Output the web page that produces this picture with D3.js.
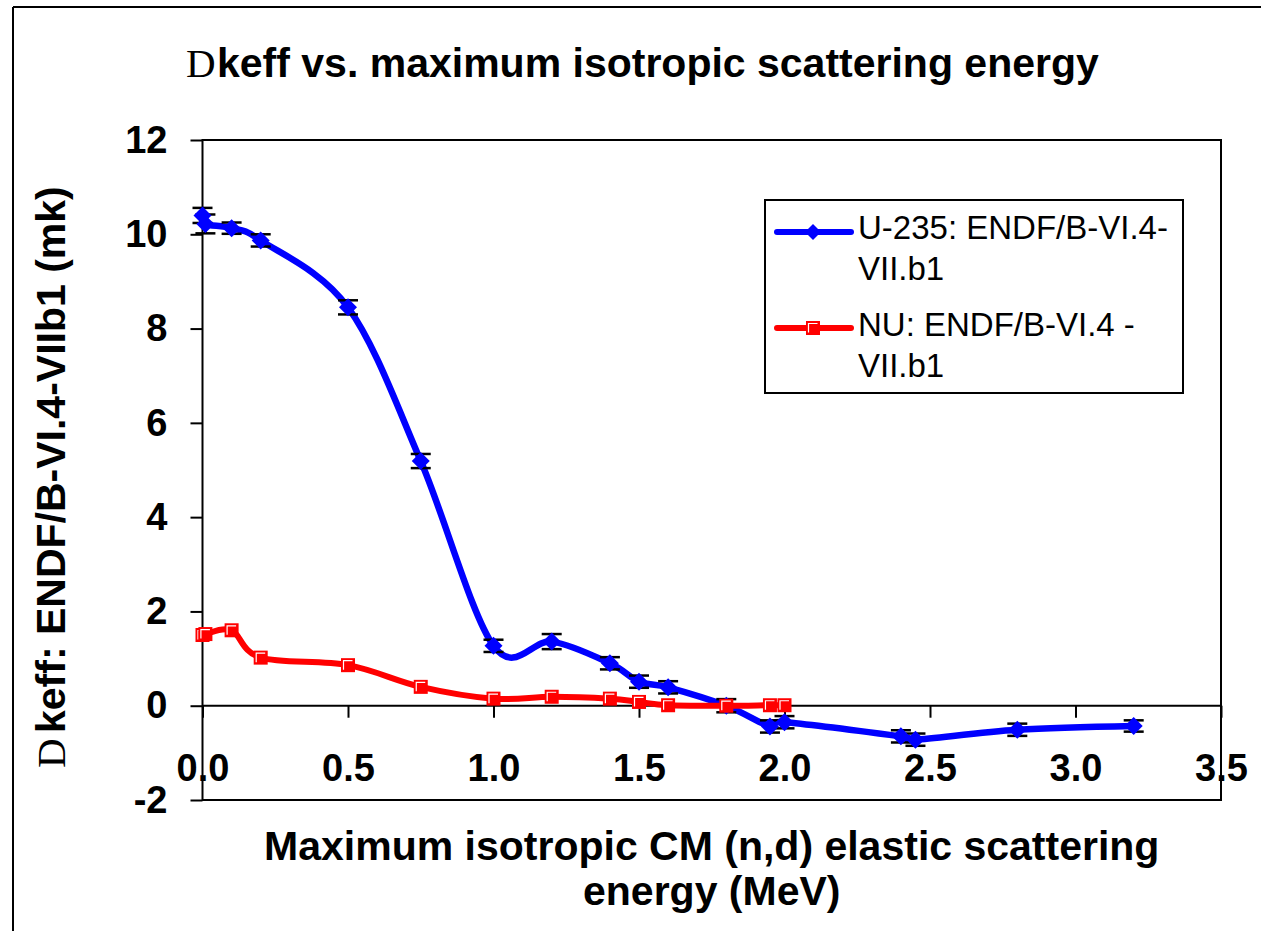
<!DOCTYPE html>
<html>
<head>
<meta charset="utf-8">
<script src="https://cdn.jsdelivr.net/npm/d3@7"></script>
<style>
  html, body { margin: 0; padding: 0; background: #fff; }
  svg { display: block; }
  text { font-family: "Liberation Sans", Arial, sans-serif; }
</style>
</head>
<body>
<script>
// ---- data ----
const xTickValues = [0, 0.5, 1.0, 1.5, 2.0, 2.5, 3.0, 3.5];
const yTickValues = [-2, 0, 2, 4, 6, 8, 10, 12];

const u235X = [0.0, 0.01, 0.1, 0.2, 0.5, 0.75, 1.0, 1.2, 1.4, 1.5, 1.6, 1.8, 1.95, 2.0, 2.4, 2.45, 2.8, 3.2];
const u235Y = [10.4, 10.22, 10.13, 9.87, 8.45, 5.19, 1.27, 1.36, 0.9, 0.51, 0.39, 0.0, -0.44, -0.35, -0.65, -0.72, -0.51, -0.43];
const u235Err = [0.16, 0.2, 0.12, 0.13, 0.15, 0.15, 0.13, 0.16, 0.13, 0.13, 0.13, 0.14, 0.13, 0.13, 0.13, 0.13, 0.13, 0.12];

const nuX = [0.0, 0.01, 0.1, 0.2, 0.5, 0.75, 1.0, 1.2, 1.4, 1.5, 1.6, 1.8, 1.95, 2.0];
const nuY = [1.5, 1.52, 1.6, 1.02, 0.86, 0.4, 0.15, 0.19, 0.15, 0.08, 0.01, 0.0, 0.01, 0.01];

const seriesNames = ["U-235: ENDF/B-VI.4-", "VII.b1", "NU: ENDF/B-VI.4 -", "VII.b1"];
const titleText = "keff vs. maximum isotropic scattering energy";
const yLabelText = "keff: ENDF/B-VI.4-VIIb1 (mk)";
const xLabelLines = ["Maximum isotropic CM (n,d) elastic scattering", "energy (MeV)"];

// ---- layout ----
const W = 1261, H = 931;
const pLeft = 202.5, pRight = 1221, pTop = 140, pBottom = 800;

const svg = d3.select("body").append("svg").attr("width", W).attr("height", H);

const x = d3.scaleLinear().domain([0, 3.5]).range([pLeft, pRight]);
const y = d3.scaleLinear().domain([-2, 12]).range([pBottom, pTop]);

// outer frame (left and top edges)
svg.append("line").attr("x1", 13).attr("x2", 13).attr("y1", 7).attr("y2", H)
  .attr("stroke", "#000").attr("stroke-width", 2);
svg.append("line").attr("x1", 13).attr("x2", W).attr("y1", 7).attr("y2", 7)
  .attr("stroke", "#000").attr("stroke-width", 2);

// title
const title = svg.append("text").attr("y", 77).attr("font-size", 41);
title.append("tspan").attr("x", 186).attr("font-family", "Liberation Serif, serif")
  .attr("font-weight", "normal").text("D");
title.append("tspan").attr("x", 217).attr("font-weight", "bold").text(titleText);

// axes
const yAxis = d3.axisLeft(y).tickValues(yTickValues).tickSize(12).tickPadding(23)
  .tickFormat(d => String(d));
const gy = svg.append("g").attr("transform", `translate(${pLeft},0)`).call(yAxis);
const xAxis = d3.axisBottom(x).tickValues(xTickValues).tickSize(12).tickPadding(36)
  .tickFormat(d3.format(".1f"));
const gx = svg.append("g").attr("transform", `translate(0,${y(0)})`).call(xAxis);

[gx, gy].forEach(g => {
  g.select(".domain").remove();
  g.selectAll(".tick line").attr("stroke", "#000").attr("stroke-width", 2);
  g.selectAll(".tick text").attr("font-size", 38).attr("font-weight", "bold")
    .attr("fill", "#000").attr("font-family", "Liberation Sans, Arial, sans-serif");
});

// plot border + zero line
svg.append("rect").attr("x", pLeft).attr("y", pTop).attr("width", pRight - pLeft)
  .attr("height", pBottom - pTop).attr("fill", "none").attr("stroke", "#000").attr("stroke-width", 2);
svg.append("line").attr("x1", pLeft).attr("x2", pRight).attr("y1", y(0)).attr("y2", y(0))
  .attr("stroke", "#000").attr("stroke-width", 2);

// y label
const yl = svg.append("text").attr("transform", "translate(65,768) rotate(-90)").attr("font-size", 41);
yl.append("tspan").attr("x", 0).attr("font-family", "Liberation Serif, serif").text("D");
yl.append("tspan").attr("x", 35).attr("font-weight", "bold").text(yLabelText);

// x label
svg.selectAll("text.xlab").data(xLabelLines).enter().append("text")
  .attr("class", "xlab").attr("x", (pLeft + pRight) / 2).attr("y", (d, i) => 860 + i * 45)
  .attr("text-anchor", "middle").attr("font-size", 41).attr("font-weight", "bold").text(d => d);

// series
const u235 = u235X.map((v, i) => ({ x: v, y: u235Y[i], e: u235Err[i] }));
const nu = nuX.map((v, i) => ({ x: v, y: nuY[i] }));

const line = d3.line().x(d => x(d.x)).y(d => y(d.y)).curve(d3.curveCardinal.tension(0));

const plot = svg.append("g");

// blue line
plot.append("path").datum(u235).attr("d", line).attr("fill", "none")
  .attr("stroke", "#0000ff").attr("stroke-width", 6.5).attr("stroke-linejoin", "round");

// error bars
const eb = plot.append("g").attr("stroke", "#000").attr("stroke-width", 2.5);
u235.forEach(d => {
  eb.append("line").attr("x1", x(d.x)).attr("x2", x(d.x)).attr("y1", y(d.y - d.e)).attr("y2", y(d.y + d.e));
  eb.append("line").attr("x1", x(d.x) - 10).attr("x2", x(d.x) + 10).attr("y1", y(d.y - d.e)).attr("y2", y(d.y - d.e));
  eb.append("line").attr("x1", x(d.x) - 10).attr("x2", x(d.x) + 10).attr("y1", y(d.y + d.e)).attr("y2", y(d.y + d.e));
});

// blue markers
function diamond(cx, cy, r) { return `M${cx},${cy - r}L${cx + r},${cy}L${cx},${cy + r}L${cx - r},${cy}Z`; }
plot.append("g").selectAll("path").data(u235).enter().append("path")
  .attr("d", d => diamond(x(d.x), y(d.y), 9)).attr("fill", "#0000ff");

// red line
plot.append("path").datum(nu).attr("d", line).attr("fill", "none")
  .attr("stroke", "#ff0000").attr("stroke-width", 6).attr("stroke-linejoin", "round");

function redSquare(g, cx, cy, s) {
  g.append("rect").attr("x", cx - s / 2).attr("y", cy - s / 2).attr("width", s).attr("height", s).attr("fill", "#ff0000");
  const h = s / 2 - 2.5;
  g.append("path").attr("d", `M${cx - h},${cy + h}V${cy - h}H${cx + h}`).attr("fill", "none")
    .attr("stroke", "#fff").attr("stroke-width", 1.2);
}
const rg = plot.append("g");
nu.forEach(d => redSquare(rg, x(d.x), y(d.y), 14));

// legend
const lg = svg.append("g");
lg.append("rect").attr("x", 765).attr("y", 200).attr("width", 418).attr("height", 193)
  .attr("fill", "#fff").attr("stroke", "#000").attr("stroke-width", 2);
lg.append("line").attr("x1", 777).attr("x2", 851).attr("y1", 232).attr("y2", 232)
  .attr("stroke", "#0000ff").attr("stroke-width", 6).attr("stroke-linecap", "round");
lg.append("path").attr("d", diamond(813, 232, 8)).attr("fill", "#0000ff");
lg.append("line").attr("x1", 777).attr("x2", 851).attr("y1", 328).attr("y2", 328)
  .attr("stroke", "#ff0000").attr("stroke-width", 6).attr("stroke-linecap", "round");
redSquare(lg, 813, 328, 14);
const legY = [239, 280, 336, 377];
lg.selectAll("text").data(seriesNames).enter().append("text")
  .attr("x", 858).attr("y", (d, i) => legY[i]).attr("font-size", 33).attr("fill", "#000").text(d => d);
</script>
</body>
</html>
